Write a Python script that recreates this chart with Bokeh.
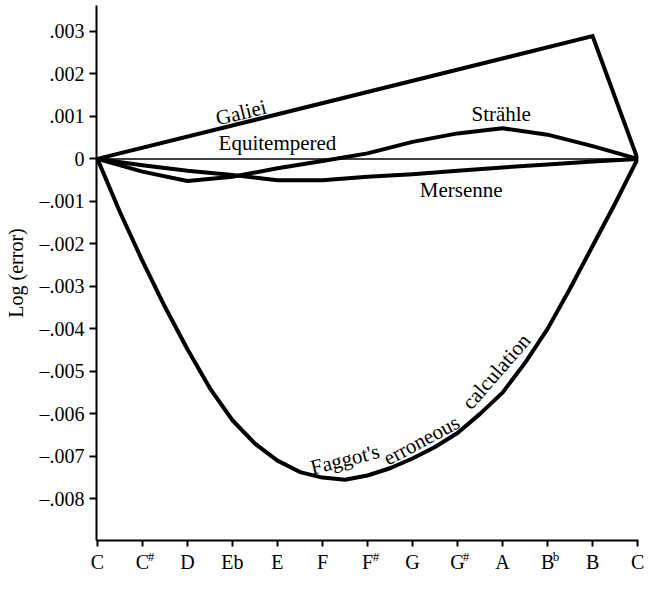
from bokeh.plotting import figure
from bokeh.models import FixedTicker, Range1d, LinearAxis
from bokeh.core.properties import value
from bokeh.embed import file_html
from bokeh.resources import INLINE

# ---- data ----
notes = ["C", "C", "D", "Eb", "E", "F", "F", "G", "G", "A", "B", "B", "C"]
note_sup = ["", "#", "", "", "", "", "#", "", "#", "", "b", "", ""]
note_pos = [0, 1, 2, 3, 4, 5, 6, 7, 8, 9, 10, 11, 12]

galilei_x = [0, 11, 12]
galilei_y = [0.0, 0.00289, 0.0]

equi_x = [0, 12]
equi_y = [0.0, 0.0]

strahle_y = [0.0, -0.00030, -0.00052, -0.00042, -0.00022, -0.00005, 0.00013,
             0.00040, 0.00060, 0.00072, 0.00057, 0.00030, 0.0]
mersenne_y = [0.0, -0.00015, -0.00028, -0.00038, -0.00050, -0.00050, -0.00042,
              -0.00036, -0.00028, -0.00020, -0.00013, -0.00006, 0.0]

faggot_x = [0, 0.5, 1, 1.5, 2, 2.5, 3, 3.5, 4, 4.5, 5, 5.5, 6, 6.5, 7, 7.5,
            8, 8.5, 9, 9.5, 10, 10.5, 11, 11.5, 12]
faggot_y = [0.0, -0.00125, -0.00240, -0.00348, -0.00448, -0.00540, -0.00615,
            -0.00670, -0.00710, -0.00737, -0.00750, -0.00755, -0.00745,
            -0.00728, -0.00705, -0.00678, -0.00645, -0.00600, -0.00550,
            -0.00480, -0.00400, -0.00305, -0.00205, -0.00105, 0.0]

y_ticks = [0.003, 0.002, 0.001, 0.0, -0.001, -0.002, -0.003, -0.004,
           -0.005, -0.006, -0.007, -0.008]
y_tick_labels = [".003", ".002", ".001", "0", "\u2013.001", "\u2013.002",
                 "\u2013.003", "\u2013.004", "\u2013.005", "\u2013.006",
                 "\u2013.007", "\u2013.008"]

curve_labels = ["Galiei", "Equitempered", "Str\u00e4hle", "Mersenne",
                "Faggot's", "erroneous", "calculation"]
curve_label_x = [3.19, 4.0, 8.97, 8.08, 5.5, 7.2, 8.86]
curve_label_y = [0.00109, 0.00037, 0.00105, -0.00074, -0.00707, -0.00662, -0.00500]
curve_label_angle = [14, 0, 0, 0, 14, 28, 49]

FONT = "Liberation Serif"

p = figure(width=645, height=575, output_backend="svg", toolbar_location=None,
           x_range=Range1d(-0.02, 12.02), y_range=Range1d(-0.00898, 0.00361),
           min_border_left=96, min_border_right=7, min_border_top=5,
           min_border_bottom=20)
p.outline_line_color = None
p.grid.visible = False
p.background_fill_color = "white"
p.border_fill_color = "white"

# lines
p.line(equi_x, equi_y, line_color="black", line_width=1.5)
p.line(galilei_x, galilei_y, line_color="black", line_width=4, line_join="miter")
p.line(note_pos, strahle_y, line_color="black", line_width=4, line_join="round")
p.line(note_pos, mersenne_y, line_color="black", line_width=4, line_join="round")
p.line(faggot_x, faggot_y, line_color="black", line_width=4, line_join="round")

# curve labels
p.text(x=curve_label_x, y=curve_label_y, text=curve_labels, angle=curve_label_angle,
       angle_units="deg", text_align="center", text_baseline="middle",
       text_font=value(FONT), text_font_size="21px", text_color="black")

# axes
xa = p.xaxis[0]
xa.ticker = FixedTicker(ticks=note_pos)
xa.major_label_overrides = {k: v for k, v in zip(note_pos, notes)}
ya = p.yaxis[0]
ya.ticker = FixedTicker(ticks=y_ticks)
ya.major_label_overrides = {k: v for k, v in zip(y_ticks, y_tick_labels)}
ya.axis_label = "Log (error)"

for ax in (xa, ya):
    ax.axis_line_width = 2
    ax.axis_line_color = "black"
    ax.major_tick_line_width = 2
    ax.major_tick_line_color = "black"
    ax.major_tick_in = 0
    ax.minor_tick_line_color = None
    ax.major_label_text_font = FONT
    ax.major_label_text_font_size = "20px"
    ax.major_label_text_color = "black"
xa.major_tick_out = 6
xa.major_label_standoff = 4
ya.major_tick_out = 7
ya.major_label_standoff = 5
ya.axis_label_text_font = FONT
ya.axis_label_text_font_size = "20px"
ya.axis_label_text_font_style = "normal"
ya.axis_label_text_color = "black"
ya.axis_label_standoff = 10

# superscripts (#, b) of the note names, as a second label-only axis
sup_shift = 0.19
sup_ticks = [pos + sup_shift for pos, s in zip(note_pos, note_sup) if s]
sup_text = [s for s in note_sup if s]
sax = LinearAxis(ticker=FixedTicker(ticks=sup_ticks),
                 major_label_overrides={k: v for k, v in zip(sup_ticks, sup_text)},
                 axis_line_color=None, major_tick_line_color=None,
                 minor_tick_line_color=None, major_tick_in=0, major_tick_out=0,
                 major_label_standoff=-27,
                 major_label_text_font=FONT, major_label_text_font_size="13px",
                 major_label_text_color="black")
p.add_layout(sax, "below")

open("out.html", "w").write(file_html(p, INLINE))
